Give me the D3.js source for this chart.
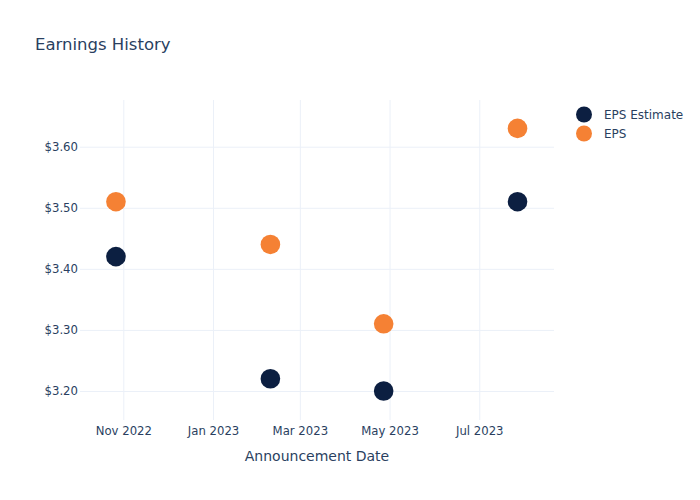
<!DOCTYPE html>
<html><head><meta charset="utf-8">
<script src="https://cdn.jsdelivr.net/npm/d3@7"></script>
<style>body{margin:0;background:#fff;} text{font-family:"DejaVu Sans",sans-serif;}</style>
</head><body><svg id="c" width="700" height="500"></svg>
<script>
const dates = ["2022-10-27","2023-02-09","2023-04-27","2023-07-27"];
const epsEstimate = [3.42, 3.22, 3.20, 3.51];
const eps = [3.51, 3.44, 3.31, 3.63];
const seriesNames = ["EPS Estimate", "EPS"];
const seriesColors = ["#0c1f41", "#f58134"];
const yTicks = [3.20, 3.30, 3.40, 3.50, 3.60];
const xTicks = ["2022-11-01","2023-01-01","2023-03-01","2023-05-01","2023-07-01"];

const parse = d3.timeParse("%Y-%m-%d");
const DAY = 864e5;
const svg = d3.select("#c");
const L = 80, R = 554, T = 100, B = 420;
const x = d3.scaleTime()
  .domain([new Date(parse("2022-11-01").getTime() - 29.44 * DAY), new Date(parse("2023-07-01").getTime() + 50.8 * DAY)])
  .range([L, R]);
const y = d3.scaleLinear().domain([3.1525, 3.6765]).range([B, T]);
const fc = "#2a3f5f", grid = "#ebf0f8";

svg.append("text").attr("x", 35).attr("y", 50).attr("font-size", 16.5).attr("fill", fc).text("Earnings History");

const xAxis = d3.axisBottom(x).tickValues(xTicks.map(parse)).tickFormat(d3.timeFormat("%b %Y")).tickSize(-(B - T)).tickPadding(7);
const gx = svg.append("g").attr("transform", `translate(0,${B})`).call(xAxis);
gx.select(".domain").remove();
gx.selectAll("line").attr("stroke", grid);
gx.selectAll("text").attr("fill", fc).attr("font-size", 11.7);

const yAxis = d3.axisLeft(y).tickValues(yTicks).tickFormat(d => "$" + d.toFixed(2)).tickSize(-(R - L)).tickPadding(4);
const gy = svg.append("g").attr("transform", `translate(${L},0)`).call(yAxis);
gy.select(".domain").remove();
gy.selectAll("line").attr("stroke", grid);
gy.selectAll("text").attr("fill", fc).attr("font-size", 11.7).attr("x", -2);

svg.append("text").attr("x", (L + R) / 2).attr("y", 461).attr("text-anchor", "middle").attr("font-size", 14).attr("fill", fc).text("Announcement Date");

const series = [epsEstimate, eps];
series.forEach((vals, i) => {
  svg.append("g").selectAll("circle").data(vals).join("circle")
    .attr("cx", (d, j) => x(parse(dates[j])))
    .attr("cy", d => y(d))
    .attr("r", 9.8)
    .attr("fill", seriesColors[i]);
});

const lg = svg.append("g");
seriesNames.forEach((n, i) => {
  lg.append("circle").attr("cx", 584).attr("cy", 114.5 + i * 19).attr("r", 8).attr("fill", seriesColors[i]);
  lg.append("text").attr("x", 604).attr("y", 118.8 + i * 19).attr("font-size", 12).attr("fill", fc).text(n);
});
</script></body></html>
